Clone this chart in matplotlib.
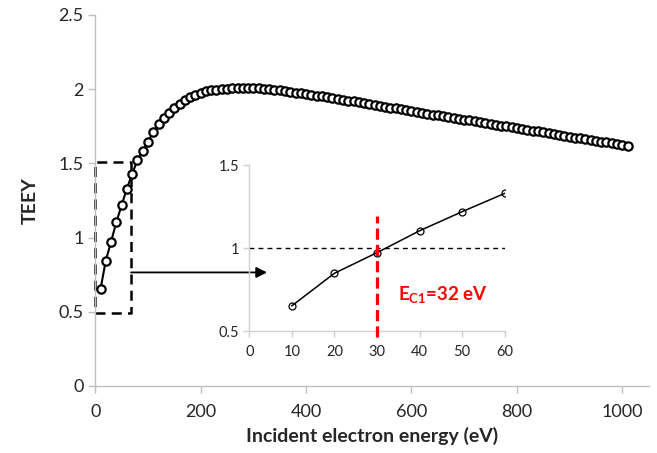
import numpy as np
import matplotlib
matplotlib.use("Agg")
import matplotlib.pyplot as plt

plt.rcParams['font.family'] = ['Lato', 'DejaVu Sans']
plt.rcParams['mathtext.fontset'] = 'custom'
plt.rcParams['mathtext.rm'] = 'Lato'
plt.rcParams['mathtext.bf'] = 'Lato:bold'

# main curve: total electron emission yield vs incident energy
energy = list(range(10, 1011, 10))
teey = [0.653, 0.845, 0.972, 1.104, 1.218, 1.329, 1.430, 1.520, 1.585, 1.645,
        1.712, 1.763, 1.805, 1.840, 1.873, 1.900, 1.927, 1.947, 1.962, 1.975,
        1.985, 1.992, 1.997, 2.001, 2.004, 2.006, 2.008, 2.009, 2.010, 2.009,
        2.006, 2.004, 2.000, 1.996, 1.991, 1.986, 1.981, 1.976, 1.971, 1.966,
        1.961, 1.956, 1.951, 1.945, 1.940, 1.934, 1.929, 1.923, 1.918, 1.912,
        1.906, 1.900, 1.894, 1.888, 1.882, 1.876, 1.870, 1.864, 1.858, 1.852,
        1.846, 1.841, 1.835, 1.829, 1.824, 1.818, 1.812, 1.806, 1.801, 1.795,
        1.789, 1.783, 1.777, 1.772, 1.766, 1.760, 1.755, 1.749, 1.744, 1.738,
        1.732, 1.727, 1.721, 1.716, 1.710, 1.704, 1.698, 1.692, 1.686, 1.680,
        1.674, 1.669, 1.663, 1.658, 1.652, 1.646, 1.641, 1.635, 1.630, 1.624,
        1.618]

# zoomed low-energy part
inset_energy = [10, 20, 30, 40, 50, 60]
inset_teey = [0.652, 0.848, 0.972, 1.104, 1.219, 1.329]

main_xticks = [0, 200, 400, 600, 800, 1000]
main_yticks = [0, 0.5, 1, 1.5, 2, 2.5]
inset_xticks = [0, 10, 20, 30, 40, 50, 60]
inset_yticks = [0.5, 1, 1.5]
ec1_x = 30
ec1_label = r'$\mathbf{E_{C1}}$=32 eV'

grey = '#bfbfbf'
txt = '#262626'

fig = plt.figure(figsize=(6.57, 4.53), dpi=100)
ax = fig.add_axes([0.145, 0.148, 0.8423, 0.819])
ax.plot(energy, teey, color='black', lw=1.5, marker='o', ms=6,
        mfc='white', mec='black', mew=1.6, zorder=3)
ax.set_xlim(0, 1050)
ax.set_ylim(0, 2.5)
ax.set_xticks(main_xticks)
ax.set_yticks(main_yticks)
ax.set_yticklabels(['0', '0.5', '1', '1.5', '2', '2.5'])
for s in ['top', 'right']:
    ax.spines[s].set_visible(False)
for s in ['left', 'bottom']:
    ax.spines[s].set_color(grey)
    ax.spines[s].set_linewidth(1.0)
ax.tick_params(colors=grey, labelcolor=txt, labelsize=13, length=5, width=1)
ax.tick_params(axis='x', pad=8)
ax.set_xlabel('Incident electron energy (eV)', fontsize=14, fontweight='bold',
              color=txt, labelpad=5)
ax.set_ylabel('TEEY', fontsize=14, fontweight='bold', color=txt, labelpad=14)

# dashed box around the low-energy region
ax.plot([0, 68, 68, 0, 0], [0.49, 0.49, 1.51, 1.51, 0.49], color='black',
        lw=1.8, ls=(0, (4, 2.5)), clip_on=False, zorder=2)
ax.annotate('', xy=(326, 0.765), xytext=(68, 0.765),
            arrowprops=dict(arrowstyle='-|>', color='black', lw=1.3,
                            mutation_scale=16, shrinkA=0, shrinkB=0))

# inset
ins = fig.add_axes([0.3795, 0.2693, 0.3887, 0.3664])
ins.patch.set_alpha(0)
ins.plot(inset_energy, inset_teey, color='black', lw=1.1, marker='o', ms=5,
         mfc='none', mec='black', mew=0.9, zorder=3)
ins.set_xlim(0, 60)
ins.set_ylim(0.5, 1.5)
ins.set_xticks(inset_xticks)
ins.set_yticks(inset_yticks)
ins.set_yticklabels(['0.5', '1', '1.5'])
for s in ['top', 'right']:
    ins.spines[s].set_visible(False)
for s in ['left', 'bottom']:
    ins.spines[s].set_color('#d0d0d0')
    ins.spines[s].set_linewidth(1.0)
ins.tick_params(colors='#d0d0d0', labelcolor=txt, labelsize=10.5, length=4, width=1)
ins.tick_params(axis='x', pad=6)
ins.plot([0, 60], [1, 1], color='black', lw=1.0, ls=(0, (3.5, 3)), zorder=2)
ins.plot([ec1_x, ec1_x], [0.466, 1.19], color='red', lw=2.3, ls=(0, (3.5, 1.6)),
         clip_on=False, zorder=4)
ins.text(35, 0.717, ec1_label, color='red', fontsize=13.5, fontweight='bold',
         va='center', ha='left')

fig.savefig('out.png', dpi=100)
